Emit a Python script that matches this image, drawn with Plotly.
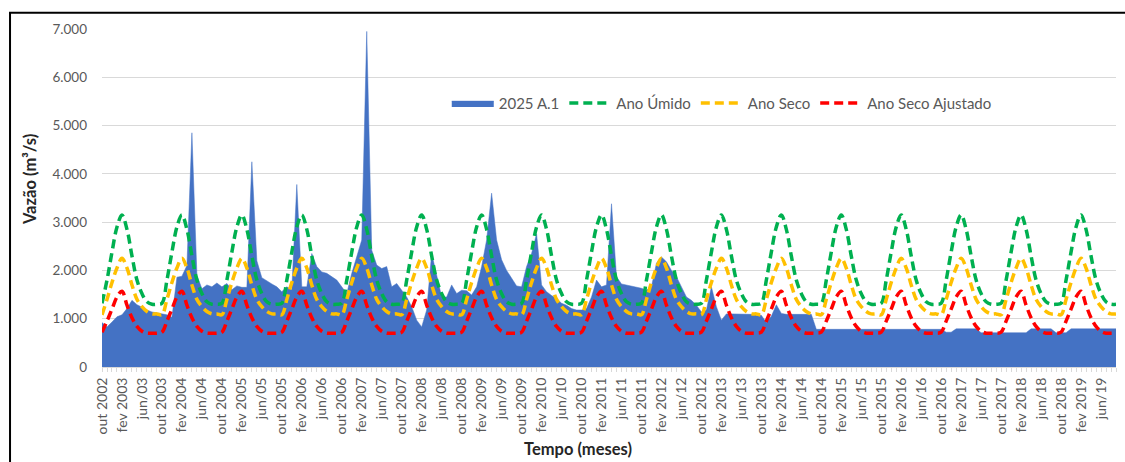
import plotly.graph_objects as go

# Monthly series Oct 2002 .. Sep 2019 (index 0..203)
vazao_2025_a1 = [
    920, 830, 930, 1040, 1080, 1210, 1380, 1290, 1240, 1180, 1140, 1120,
    1110, 1080, 1030, 1860, 1880, 2100, 4850, 1900, 1620, 1700, 1660, 1740,
    1660, 1730, 1600, 1680, 1650, 1650, 4250, 2200, 1850, 1780, 1720, 1660,
    1560, 1660, 1600, 3780, 1660, 1660, 2350, 2080, 1970, 1940, 1870, 1800,
    1660, 1520, 1940, 2280, 2630, 6950, 2420, 2110, 2040, 2080, 1660, 1730,
    1600, 1450, 1250, 970, 830, 1180, 2350, 1900, 1450, 1450, 1700, 1520,
    1590, 1580, 1490, 1660, 2080, 2630, 3600, 2630, 2220, 2000, 1840, 1680,
    1660, 2080, 2350, 2760, 1700, 1560, 1480, 1420, 1320, 1280, 1210, 1180,
    1180, 1210, 1450, 1800, 1660, 1700, 3380, 1870, 1720, 1700, 1680, 1660,
    1630, 1590, 1660, 2150, 2280, 2180, 2000, 1870, 1660, 1450, 1380, 1280,
    1140, 1180, 1660, 1250, 970, 1100, 1100, 1100, 1090, 1090, 1090, 1070,
    1070, 920, 1050, 1290, 1110, 1090, 1090, 1090, 1090, 1090, 1090, 780,
    780, 780, 780, 780, 780, 780, 780, 780, 780, 780, 780, 780,
    780, 780, 780, 780, 780, 780, 780, 780, 780, 780, 780, 780,
    780, 720, 720, 790, 790, 790, 790, 790, 710, 710, 710, 710,
    710, 710, 710, 710, 710, 710, 790, 790, 790, 790, 790, 710,
    710, 710, 790, 790, 790, 790, 790, 790, 790, 790, 790, 790,
]

# Seasonal reference curves, one value per month Oct..Sep (repeat every hydrological year)
perfil_ano_umido = [1320, 1800, 2380, 2900, 3150, 2850, 2300, 1800, 1520, 1350, 1300, 1300]
perfil_ano_seco = [1080, 1400, 1750, 2050, 2250, 2050, 1700, 1400, 1250, 1150, 1100, 1100]
perfil_ano_seco_ajustado = [720, 950, 1200, 1450, 1570, 1280, 1020, 840, 740, 700, 700, 700]

n_anos = 17
ano_umido = perfil_ano_umido * n_anos
ano_seco = perfil_ano_seco * n_anos
ano_seco_ajustado = perfil_ano_seco_ajustado * n_anos

tick_labels = [
    "out 2002", "fev 2003", "jun/03", "out 2003", "fev 2004", "jun/04", "out 2004",
    "fev 2005", "jun/05", "out 2005", "fev 2006", "jun/06", "out 2006", "fev 2007",
    "jun/07", "out 2007", "fev 2008", "jun/08", "out 2008", "fev 2009", "jun/09",
    "out 2009", "fev 2010", "jun/10", "out 2010", "fev 2011", "jun/11", "out 2011",
    "fev 2012", "jun/12", "out 2012", "fev 2013", "jun/13", "out 2013", "fev 2014",
    "jun/14", "out 2014", "fev 2015", "jun/15", "out 2015", "fev 2016", "jun/16",
    "out 2016", "fev 2017", "jun/17", "out 2017", "fev 2018", "jun/18", "out 2018",
    "fev 2019", "jun/19",
]

x = list(range(len(vazao_2025_a1)))
tick_vals = [4 * k for k in range(len(tick_labels))]

FONT = "Lato"
GREY = "#595959"

fig = go.Figure()
fig.add_trace(go.Scatter(
    x=x, y=vazao_2025_a1, name="2025 A.1", mode="lines",
    line=dict(color="#4472C4", width=0.5), fill="tozeroy", fillcolor="#4472C4",
))
dash = "9px,5px"
fig.add_trace(go.Scatter(
    x=x, y=ano_umido[:len(x)], name="Ano Úmido", mode="lines",
    line=dict(color="#00B050", width=3.5, dash=dash, shape="spline", smoothing=1),
))
fig.add_trace(go.Scatter(
    x=x, y=ano_seco[:len(x)], name="Ano Seco", mode="lines",
    line=dict(color="#FFC000", width=3.5, dash=dash, shape="spline", smoothing=1),
))
fig.add_trace(go.Scatter(
    x=x, y=ano_seco_ajustado[:len(x)], name="Ano Seco Ajustado", mode="lines",
    line=dict(color="#FF0000", width=3.5, dash=dash, shape="spline", smoothing=1),
))

fig.update_layout(
    width=1125, height=462,
    margin=dict(l=102, r=9, t=29, b=95),
    paper_bgcolor="white", plot_bgcolor="white",
    separators=",.",
    font=dict(family=FONT, size=13, color=GREY),
    showlegend=True,
    legend=dict(
        orientation="h", x=0.34, y=0.78, xanchor="left", yanchor="middle",
        font=dict(family=FONT, size=15, color=GREY),
        bgcolor="rgba(255,255,255,0)", itemwidth=42, tracegroupgap=0,
    ),
    xaxis=dict(
        range=[0, len(x) - 1], tickmode="array", tickvals=tick_vals, ticktext=tick_labels,
        tickangle=-90, showgrid=False, zeroline=False,
        showline=True, linecolor="#d9d9d9", linewidth=1,
        ticks="outside", ticklen=4, tickcolor="#d9d9d9",
        minor=dict(dtick=1, ticks="outside", ticklen=4, tickcolor="#d9d9d9", showgrid=False),
        tickfont=dict(family=FONT, size=14, color=GREY),
    ),
    yaxis=dict(
        range=[0, 7000], dtick=1000, tickformat=",d",
        showgrid=True, gridcolor="#d9d9d9", gridwidth=1, zeroline=False,
        showline=False, ticks="", ticklabelstandoff=14,
        tickfont=dict(family=FONT, size=13.5, color=GREY),
    ),
    annotations=[
        dict(text="<b>Vazão (m³/s)</b>", xref="paper", yref="paper", x=-0.071, y=0.553,
             textangle=-90, showarrow=False, xanchor="center", yanchor="middle",
             font=dict(family=FONT, size=16.5, color="#262626")),
        dict(text="<b>Tempo (meses)</b>", xref="paper", yref="paper", x=0.469, y=-0.244,
             showarrow=False, xanchor="center", yanchor="middle",
             font=dict(family=FONT, size=16.5, color="#262626")),
    ],
    shapes=[
        dict(type="rect", xref="paper", yref="paper", x0=-0.0907, x1=1.05, y0=-0.35, y1=1.048,
             line=dict(color="black", width=2), fillcolor="rgba(0,0,0,0)", layer="above"),
    ],
)

fig.write_html("out.html")
